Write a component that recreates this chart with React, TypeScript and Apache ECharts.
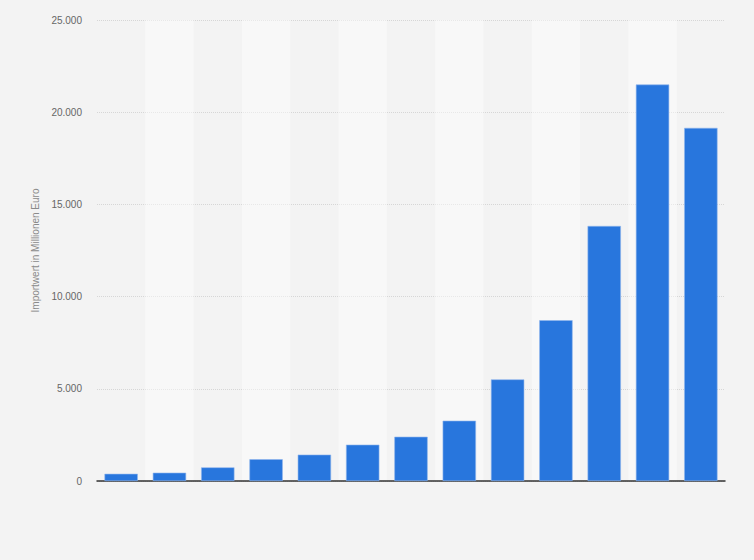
import { useEffect, useRef } from 'react';
import * as echarts from 'echarts';
import * as React from 'react';

// x labels are not shown in the source picture
const categories = ['1', '2', '3', '4', '5', '6', '7', '8', '9', '10', '11', '12', '13'];
const importValues = [390, 450, 740, 1180, 1430, 1970, 2400, 3270, 5510, 8720, 13830, 21500, 19150];
const yTicks = [0, 5000, 10000, 15000, 20000, 25000];

const FONT = 'Arial, "Liberation Sans", sans-serif';

function ImportChart() {
  const divEL = useRef<HTMLDivElement>(null);

  useEffect(() => {
    document.body.style.margin = '0';
    const instance = echarts.init(divEL.current as any, null, { renderer: 'svg' });

    const option: echarts.EChartsOption = {
      animation: false,
      backgroundColor: '#f3f3f3',
      textStyle: { fontFamily: FONT },
      grid: { left: 97, right: 29, top: 20, bottom: 79 },
      xAxis: {
        type: 'category',
        data: categories,
        axisLine: { lineStyle: { color: '#333', width: 1.5 } },
        axisTick: { show: false },
        axisLabel: { show: false },
        splitArea: {
          show: true,
          areaStyle: { color: ['rgba(0,0,0,0)', 'rgba(255,255,255,0.45)'] },
        },
      },
      yAxis: {
        type: 'value',
        min: yTicks[0],
        max: yTicks[yTicks.length - 1],
        interval: 5000,
        name: 'Importwert in Millionen Euro',
        nameLocation: 'middle',
        nameGap: 52,
        nameTextStyle: { color: '#8a8a8a', fontSize: 10, fontFamily: FONT },
        axisLine: { show: false },
        axisTick: { show: false },
        axisLabel: {
          color: '#666',
          fontSize: 10,
          margin: 15,
          fontFamily: FONT,
          formatter: (v: number) => v.toLocaleString('de-DE'),
        },
        splitLine: { lineStyle: { color: '#d6d6d6', type: [1, 1] } },
      },
      series: [
        {
          type: 'bar',
          data: importValues,
          barWidth: '69%',
          itemStyle: {
            color: '#2876dd',
            borderColor: '#8fb6ec',
            borderWidth: 0.6,
          },
        },
      ],
    };

    instance.setOption(option);
    return () => {
      instance.dispose();
    };
  }, []);

  return <div ref={divEL} style={{ width: '754px', height: '560px' }}></div>;
}

export default function App() {
  return <ImportChart />;
}
